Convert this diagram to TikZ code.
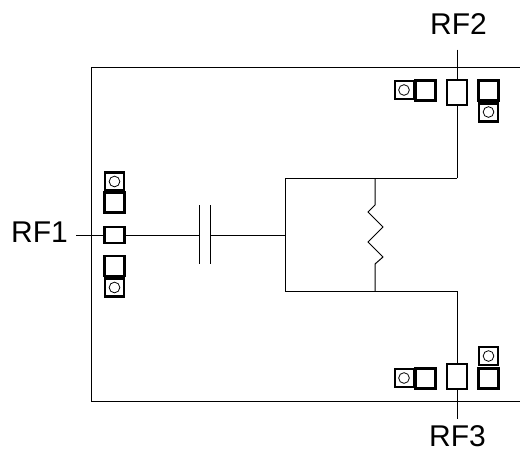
\documentclass[tikz,border=0pt]{standalone}
\usepackage{fontspec}
\setmainfont{Liberation Sans}
\usetikzlibrary{positioning}

\begin{document}
\begin{tikzpicture}[x=0.75pt,y=-0.75pt,line width=0.75pt,font=\fontsize{22.5}{26}\selectfont]
  \tikzstyle{pad}=[draw,fill=white,line width=1.7pt,inner sep=0pt,minimum width=15pt,minimum height=15pt]
  \tikzstyle{rfpad}=[pad,minimum height=18.5pt]
  \tikzstyle{inpad}=[pad,minimum height=12.5pt]
  \tikzstyle{viapad}=[pad,line width=1.6pt,minimum width=14pt,minimum height=13.5pt]
  \tikzstyle{via}=[draw,circle,line width=0.6pt,inner sep=0pt,minimum size=8pt]
  \tikzstyle{rf_txt}=[inner sep=0pt]

  \useasboundingbox (0,0) rectangle (520,451);

  % the open box
  \draw (520,67) -- (91,67) -- (91,401) -- (520,401);

  % pads on the left
  \node [inpad] (pad1) at (114.5,235) {};
  \node [pad] (pad1a) at (114.5,202.5) {};
  \node [pad] (pad1b) at (114.5,266) {};
  \node [viapad] (via1a) at (114.5,181.5) {};
  \node [viapad] (via1b) at (114.5,287.5) {};
  \node [via] at (114.5,181.5) {};
  \node [via] at (114.5,287.5) {};

  % pads on the top right
  \node [rfpad] (pad2) at (457,92.5) {};
  \node [pad] (pad2a) at (425.5,90.5) {};
  \node [pad] (pad2b) at (488.5,90.5) {};
  \node [viapad] (via2a) at (404.5,90) {};
  \node [viapad] (via2b) at (488.5,112.5) {};
  \node [via] at (404,90) {};
  \node [via] at (488.5,112) {};

  % pads on the bottom right
  \node [rfpad] (pad3) at (457,376.5) {};
  \node [pad] (pad3a) at (425.5,378.5) {};
  \node [pad] (pad3b) at (488.5,378.5) {};
  \node [viapad] (via3a) at (404.5,378) {};
  \node [viapad] (via3b) at (488.5,356) {};
  \node [via] at (404,378) {};
  \node [via] at (488.5,356) {};

  % the labels
  \node [rf_txt] (rf2) at (458.5,24) {RF2};
  \node [rf_txt] (rf3) at (457.5,436) {RF3};
  \node [rf_txt] (rf1) at (39.5,232.5) {RF1};

  % the points of the network
  \coordinate (capa) at (199,235);
  \coordinate (capb) at (210,235);
  \coordinate (nodeL) at (285,235);
  \coordinate (topL) at (285,178);
  \coordinate (botL) at (285,291);
  \coordinate (topM) at (375,178);
  \coordinate (botM) at (375,291);
  \coordinate (topR) at (457,178);
  \coordinate (botR) at (457,291);

  % line from RF1 to the capacitor
  \draw [shorten <=6pt] (rf1.east |- pad1.west)--(pad1.west);
  \draw (pad1.east)--(capa);
  \draw (199,205)--(199,264);
  \draw (210,205)--(210,264);
  \draw (capb)--(nodeL);

  % the loop with the resistor
  \draw (topR)--(topL)--(botL)--(botR);
  \draw (topM)--(375,205)--(368,212)--(383,227)--(368,242)--(383,257)--(375,264)--(botM);

  % lines to RF2 and RF3
  \draw [shorten <=11pt] (rf2.south -| pad2.north)--(pad2.north);
  \draw (pad2.south)--(topR);
  \draw (botR)--(pad3.north);
  \draw [shorten >=4.5pt] (pad3.south)--(rf3.north -| pad3.south);

\end{tikzpicture}
\end{document}
